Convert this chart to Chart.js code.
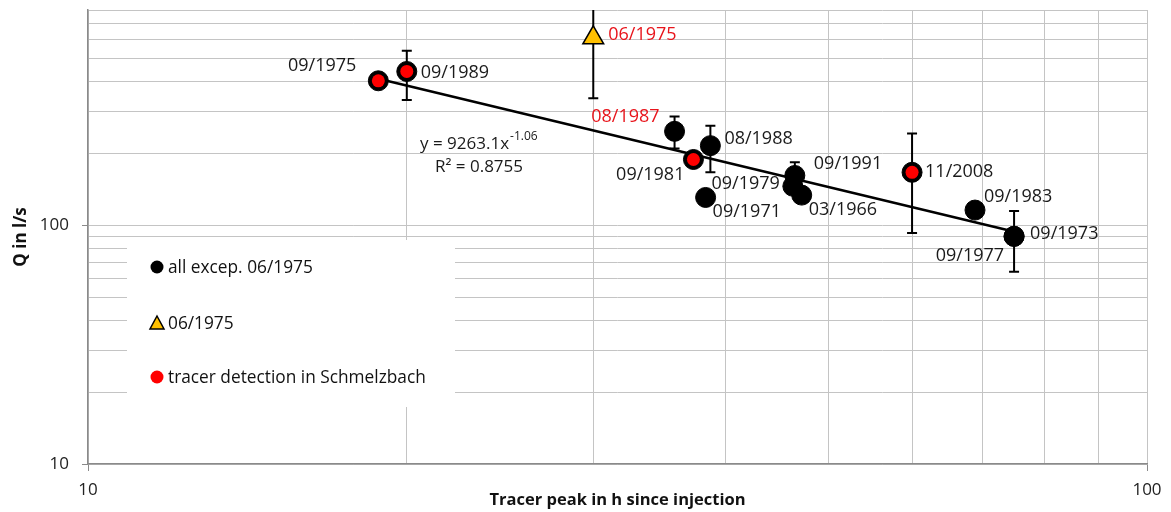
<!DOCTYPE html>
<html><head><meta charset="utf-8">
<script src="https://cdn.jsdelivr.net/npm/chart.js@4.4.0/dist/chart.umd.min.js"></script>
<style>html,body{margin:0;padding:0;background:#fff;}</style>
</head><body>
<canvas id="c" width="1171" height="512"></canvas>
<script>
// ---- data ----
const events     = ['09/1975','09/1989','08/1987','08/1988','09/1981','09/1971','09/1979','09/1991','03/1966','11/2008','09/1983','09/1973','09/1977'];
const peakHours  = [18.8, 20.0, 35.8, 38.7, 37.3, 38.3, 46.3, 46.5, 47.2, 60.0, 68.8, 74.9, 74.9];
const discharge  = [404, 442, 248, 216, 189, 131, 146, 162, 134, 167, 116, 90, 90];
const errLow     = [null, 336, 210, 167, null, null, null, 140, null, 93, null, 64, null];
const errHigh    = [null, 540, 286, 262, null, null, null, 184, null, 243, null, 115, null];

const outlierEvent = ['06/1975'];
const outlierHours = [30.0];
const outlierQ     = [612];
const outlierLow   = [341];
const outlierHigh  = [920];

const tracerEvents = ['09/1975','09/1989','09/1981','11/2008'];
const tracerHours  = [18.8, 20.0, 37.3, 60.0];
const tracerQ      = [404, 442, 189, 167];

const trendHours = [18.8, 74.3];
const trendQ     = [412, 95];
const trendEquation = 'y = 9263.1x';
const trendExponent = '-1.06';
const trendR2 = 'R² = 0.8755';

const xTickLabels = [10, 100];
const yTickLabels = [10, 100];

const seriesNames = ['all excep. 06/1975', '06/1975', 'tracer detection in Schmelzbach'];

// ---- presentation ----
const FONT = '"Open Sans", "Liberation Sans", sans-serif';
const redLabels = ['06/1975', '08/1987'];
const labelOffsets = { // dx, dy, align
  '09/1975': [-22, -15, 'right'],
  '09/1989': [14, 1, 'left'],
  '06/1975': [15, -3, 'left'],
  '08/1987': [-15, -14, 'right'],
  '08/1988': [14, -7, 'left'],
  '09/1981': [-9, 15, 'right'],
  '09/1979': [-13, -2, 'right'],
  '09/1971': [7, 14, 'left'],
  '09/1991': [19, -12, 'left'],
  '03/1966': [7, 15, 'left'],
  '11/2008': [13, 0, 'left'],
  '09/1983': [9, -13, 'left'],
  '09/1973': [16, -2, 'left'],
  '09/1977': [-10, 20, 'right']
};

const toPts = (xs, ys) => xs.map((v, i) => ({x: v, y: ys[i]}));
// standard log gridline positions: 1..9 x 10^n within [min, max]
const logGrid = (min, max) => {
  const out = [];
  for (let e = Math.floor(Math.log10(min)); e <= Math.ceil(Math.log10(max)); e++) {
    for (let m = 1; m <= 9; m++) {
      const v = Math.round(m * Math.pow(10, e) * 1e6) / 1e6;
      if (v >= min && v <= max) out.push(v);
    }
  }
  return out;
};

const errorBars = {
  id: 'errorBars',
  beforeDatasetsDraw(chart) {
    const {ctx, chartArea: a, scales: {x, y}} = chart;
    // legend box (white, covers grid)
    ctx.save();
    ctx.fillStyle = '#fff';
    ctx.fillRect(127, 240, 328, 167);
    const items = [
      {t: seriesNames[0], kind: 'dot', c: '#000', yy: 267},
      {t: seriesNames[1], kind: 'tri', c: '#FFC000', yy: 323},
      {t: seriesNames[2], kind: 'dot', c: '#ff0000', yy: 377}
    ];
    ctx.font = '17.3px ' + FONT;
    ctx.textBaseline = 'middle';
    ctx.textAlign = 'left';
    items.forEach(it => {
      if (it.kind === 'dot') {
        ctx.beginPath(); ctx.arc(157, it.yy, 6.5, 0, Math.PI * 2);
        ctx.fillStyle = it.c; ctx.fill();
      } else {
        ctx.beginPath();
        ctx.moveTo(157, it.yy - 7); ctx.lineTo(164, it.yy + 6); ctx.lineTo(150, it.yy + 6); ctx.closePath();
        ctx.fillStyle = it.c; ctx.fill();
        ctx.strokeStyle = '#000'; ctx.lineWidth = 1.5; ctx.stroke();
      }
      ctx.fillStyle = '#111';
      ctx.fillText(it.t, 168, it.yy + 1);
    });
    ctx.restore();

    ctx.save();
    ctx.beginPath(); ctx.rect(a.left, a.top, a.right - a.left, a.bottom - a.top); ctx.clip();
    ctx.strokeStyle = '#000'; ctx.lineWidth = 2;
    const draw = (xv, lo, hi) => {
      if (lo == null || hi == null) return;
      const px = x.getPixelForValue(xv), p1 = y.getPixelForValue(lo), p2 = y.getPixelForValue(hi);
      ctx.beginPath();
      ctx.moveTo(px, p1); ctx.lineTo(px, p2);
      ctx.moveTo(px - 5, p1); ctx.lineTo(px + 5, p1);
      ctx.moveTo(px - 5, p2); ctx.lineTo(px + 5, p2);
      ctx.stroke();
    };
    peakHours.forEach((h, i) => draw(h, errLow[i], errHigh[i]));
    outlierHours.forEach((h, i) => draw(h, outlierLow[i], outlierHigh[i]));
    ctx.restore();
  },
  afterDatasetsDraw(chart) {
    const {ctx, scales: {x, y}} = chart;
    ctx.save();
    ctx.font = '18px ' + FONT;
    ctx.textBaseline = 'middle';
    const put = (name, xv, yv) => {
      const o = labelOffsets[name]; if (!o) return;
      ctx.fillStyle = redLabels.includes(name) ? '#e8141b' : '#1a1a1a';
      ctx.textAlign = o[2];
      ctx.fillText(name, x.getPixelForValue(xv) + o[0], y.getPixelForValue(yv) + o[1]);
    };
    events.forEach((n, i) => put(n, peakHours[i], discharge[i]));
    outlierEvent.forEach((n, i) => put(n, outlierHours[i], outlierQ[i]));
    // trendline equation
    ctx.fillStyle = '#1a1a1a';
    ctx.textAlign = 'left';
    ctx.font = '17px ' + FONT;
    ctx.fillText(trendEquation, 420, 144);
    const w = ctx.measureText(trendEquation).width;
    ctx.font = '12px ' + FONT;
    ctx.fillText(trendExponent, 420 + w + 1, 137);
    ctx.font = '17px ' + FONT;
    ctx.fillText(trendR2, 435, 167);
    ctx.restore();
  }
};

new Chart(document.getElementById('c'), {
  type: 'scatter',
  data: {
    datasets: [
      {label: 'trend', type: 'line', data: toPts(trendHours, trendQ), borderColor: '#000', borderWidth: 2.5,
       pointRadius: 0, showLine: true, fill: false, order: 5},
      {label: seriesNames[0], data: toPts(peakHours, discharge), pointRadius: 10, pointBackgroundColor: '#000',
       pointBorderColor: '#000', pointBorderWidth: 1, order: 3, clip: false},
      {label: seriesNames[1], data: toPts(outlierHours, outlierQ), pointStyle: 'triangle', pointRadius: 12,
       pointBackgroundColor: '#FFC000', pointBorderColor: '#000', pointBorderWidth: 1.5, order: 2, clip: false},
      {label: seriesNames[2], data: toPts(tracerHours, tracerQ), pointRadius: 6.5, pointBackgroundColor: '#ff0000',
       pointBorderWidth: 0, order: 1, clip: false}
    ]
  },
  options: {
    responsive: false, animation: false, devicePixelRatio: 1,
    layout: {autoPadding: false, padding: {top: 10, right: 24, bottom: 0, left: 0}},
    plugins: {legend: {display: false}, tooltip: {enabled: false}},
    scales: {
      x: {
        type: 'logarithmic', min: 10, max: 100, position: 'bottom',
        afterBuildTicks(s) { s.ticks = logGrid(10, 100).map(v => ({value: v})); },
        grid: {color: '#c4c4c4', lineWidth: 1, tickLength: 7,
               tickColor: c => (c.tick && xTickLabels.includes(c.tick.value)) ? '#8a8a8a' : 'rgba(0,0,0,0)'},
        border: {color: '#8a8a8a', width: 1.5},
        ticks: {autoSkip: false, maxRotation: 0, padding: 9, color: '#222', font: {family: FONT, size: 17},
                callback: v => xTickLabels.includes(v) ? String(v) : ''},
        title: {display: true, text: 'Tracer peak in h since injection', color: '#111',
                font: {family: FONT, size: 16.5, weight: 'bold'}, padding: {top: 0, bottom: 2}},
        afterFit(s) { s.height = 48; s.paddingLeft = 0; s.paddingRight = 0; }
      },
      y: {
        type: 'logarithmic', min: 10, max: 800,
        afterBuildTicks(s) { s.ticks = logGrid(10, 800).map(v => ({value: v})); },
        grid: {color: '#c4c4c4', lineWidth: 1, tickLength: 6,
               tickColor: c => (c.tick && yTickLabels.includes(c.tick.value)) ? '#8a8a8a' : 'rgba(0,0,0,0)'},
        border: {color: '#8a8a8a', width: 1.5},
        ticks: {autoSkip: false, padding: 13, color: '#222', font: {family: FONT, size: 17},
                callback: v => yTickLabels.includes(v) ? String(v) : ''},
        title: {display: true, text: 'Q in l/s', color: '#111',
                font: {family: FONT, size: 17, weight: 'bold'}, padding: {top: 11, bottom: 0}},
        afterFit(s) { s.width = 88; s.paddingTop = 0; s.paddingBottom = 0; }
      }
    }
  },
  plugins: [errorBars]
});
</script>
</body></html>
